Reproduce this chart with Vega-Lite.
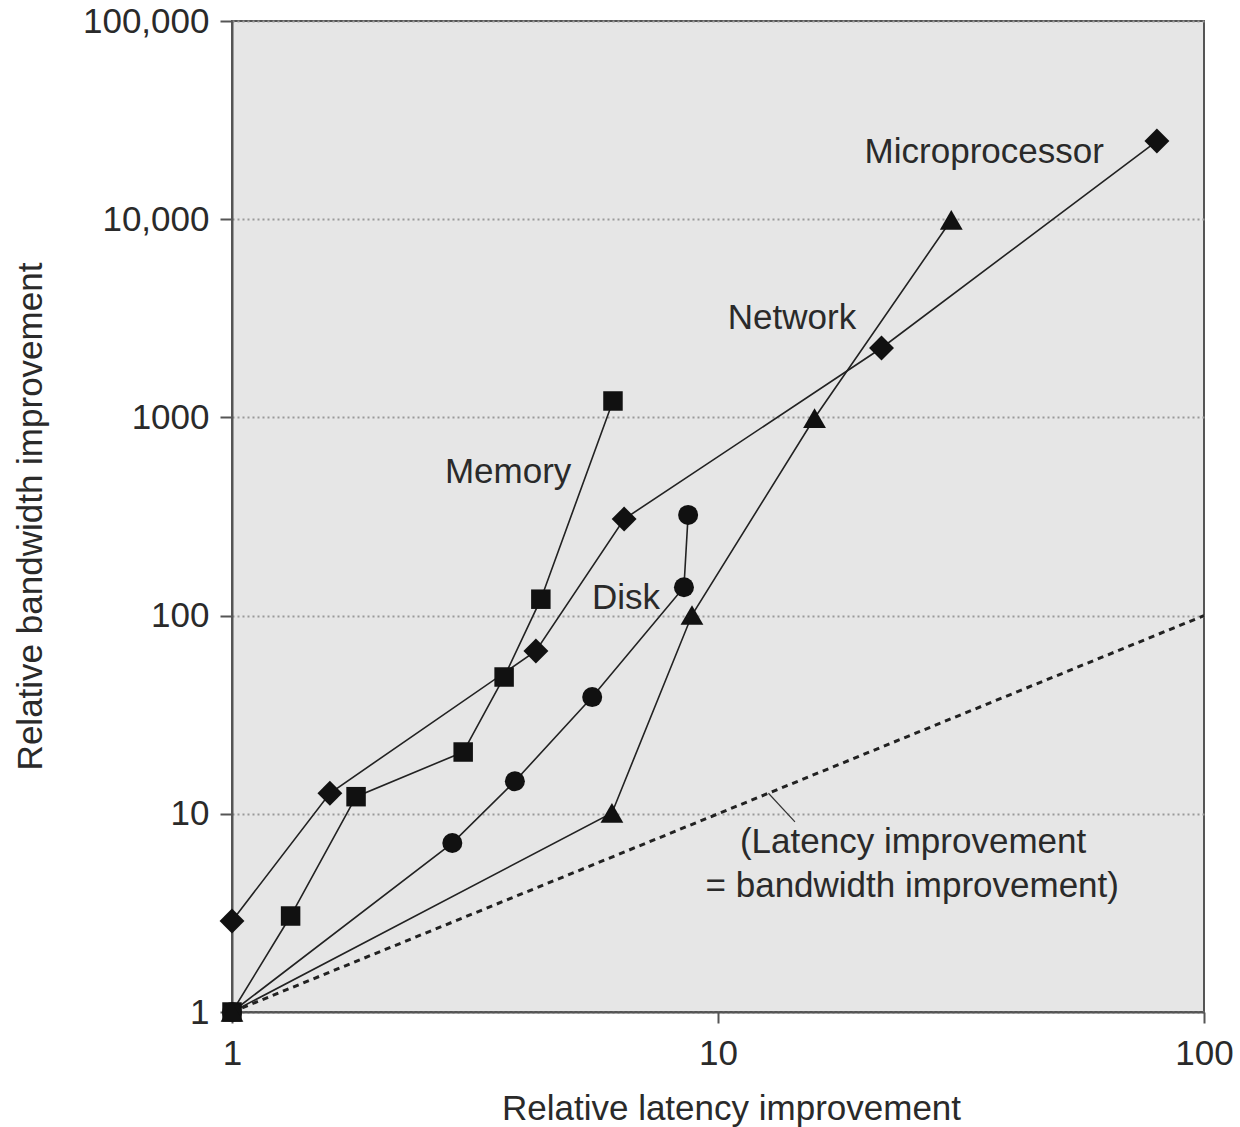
{
  "$schema": "https://vega.github.io/schema/vega-lite/v6.json",
  "width": 972,
  "height": 991,
  "autosize": {"type": "none"},
  "padding": {"left": 232, "top": 21, "right": 36, "bottom": 115},
  "background": "white",
  "config": {
    "view": {"fill": "#e6e6e6", "stroke": "#555555", "strokeWidth": 2},
    "font": "Liberation Sans",
    "axis": {
      "labelFont": "Liberation Sans",
      "labelFontSize": 35,
      "labelColor": "#2a2a2a",
      "labelFlush": false,
      "titleFont": "Liberation Sans",
      "titleFontSize": 35,
      "titleFontWeight": "normal",
      "titleColor": "#2a2a2a",
      "domainColor": "#555555",
      "domainWidth": 2,
      "tickColor": "#555555",
      "tickWidth": 2
    }
  },
  "datasets": {
    "pts": [
      {"series": "Microprocessor", "i": 0, "x": 1, "y": 2.88},
      {"series": "Microprocessor", "i": 1, "x": 1.59, "y": 12.7},
      {"series": "Microprocessor", "i": 2, "x": 4.22, "y": 66.3},
      {"series": "Microprocessor", "i": 3, "x": 6.41, "y": 307},
      {"series": "Microprocessor", "i": 4, "x": 21.7, "y": 2240},
      {"series": "Microprocessor", "i": 5, "x": 80, "y": 24800},
      {"series": "Memory", "i": 0, "x": 1, "y": 1},
      {"series": "Memory", "i": 1, "x": 1.32, "y": 3.05},
      {"series": "Memory", "i": 2, "x": 1.8, "y": 12.2},
      {"series": "Memory", "i": 3, "x": 2.99, "y": 20.5},
      {"series": "Memory", "i": 4, "x": 3.63, "y": 49},
      {"series": "Memory", "i": 5, "x": 4.32, "y": 121},
      {"series": "Memory", "i": 6, "x": 6.08, "y": 1210},
      {"series": "Disk", "i": 0, "x": 1, "y": 1},
      {"series": "Disk", "i": 1, "x": 2.84, "y": 7.12},
      {"series": "Disk", "i": 2, "x": 3.82, "y": 14.6},
      {"series": "Disk", "i": 3, "x": 5.51, "y": 38.8},
      {"series": "Disk", "i": 4, "x": 8.51, "y": 139},
      {"series": "Disk", "i": 5, "x": 8.68, "y": 322},
      {"series": "Network", "i": 0, "x": 1, "y": 1},
      {"series": "Network", "i": 1, "x": 6.05, "y": 10.1},
      {"series": "Network", "i": 2, "x": 8.84, "y": 100.7},
      {"series": "Network", "i": 3, "x": 15.8, "y": 993},
      {"series": "Network", "i": 4, "x": 30.2, "y": 9910}
    ],
    "labels": [
      {"text": "Microprocessor", "x": 35.3, "y": 21840},
      {"text": "Network", "x": 14.2, "y": 3175},
      {"text": "Memory", "x": 3.7, "y": 530},
      {"text": "Disk", "x": 6.47, "y": 122.7},
      {"text": "(Latency improvement", "x": 25.2, "y": 7.21},
      {"text": "= bandwidth improvement)", "x": 25.1, "y": 4.32}
    ],
    "equal": [
      {"x": 1, "y": 1},
      {"x": 100, "y": 100}
    ],
    "leader": [
      {"x": 12.7, "y": 12.7, "x2": 14.4, "y2": 9.1}
    ]
  },
  "layer": [
    {
      "data": {"name": "equal"},
      "mark": {"type": "line", "color": "#222222", "strokeWidth": 3, "strokeDash": [6, 5], "clip": false},
      "encoding": {
        "x": {
          "field": "x",
          "type": "quantitative",
          "scale": {"type": "log", "domain": [1, 100], "nice": false},
          "axis": {
            "values": [1, 10, 100],
            "format": "d",
            "grid": false,
            "tickSize": 11,
            "labelPadding": 13,
            "title": "Relative latency improvement",
            "titleX": 499,
            "titleY": 96,
            "titleBaseline": "middle",
            "titleAlign": "center"
          }
        },
        "y": {
          "field": "y",
          "type": "quantitative",
          "scale": {"type": "log", "domain": [1, 100000], "nice": false},
          "axis": {
            "values": [1, 10, 100, 1000, 10000, 100000],
            "labelExpr": "datum.value == 1000 ? '1000' : format(datum.value, ',')",
            "grid": true,
            "gridColor": "#999999",
            "gridWidth": 2,
            "gridDash": [2, 3],
            "tickSize": 12,
            "labelPadding": 11,
            "title": "Relative bandwidth improvement",
            "titleX": -202,
            "titleY": 495,
            "titleAngle": -90,
            "titleBaseline": "middle",
            "titleAlign": "center"
          }
        }
      }
    },
    {
      "data": {"name": "leader"},
      "mark": {"type": "rule", "color": "#333333", "strokeWidth": 1.2},
      "encoding": {
        "x": {"field": "x", "type": "quantitative"},
        "y": {"field": "y", "type": "quantitative"},
        "x2": {"field": "x2"},
        "y2": {"field": "y2"}
      }
    },
    {
      "data": {"name": "pts"},
      "mark": {"type": "line", "color": "#222222", "strokeWidth": 1.6, "clip": false},
      "encoding": {
        "x": {"field": "x", "type": "quantitative"},
        "y": {"field": "y", "type": "quantitative"},
        "detail": {"field": "series"},
        "order": {"field": "i", "type": "quantitative"}
      }
    },
    {
      "data": {"name": "pts"},
      "mark": {"type": "point", "filled": true, "opacity": 1, "color": "#111111", "clip": false},
      "encoding": {
        "x": {"field": "x", "type": "quantitative"},
        "y": {"field": "y", "type": "quantitative"},
        "shape": {
          "field": "series",
          "type": "nominal",
          "scale": {
            "domain": ["Microprocessor", "Memory", "Disk", "Network"],
            "range": ["diamond", "square", "circle", "triangle-up"]
          },
          "legend": null
        },
        "size": {
          "field": "series",
          "type": "nominal",
          "scale": {
            "type": "ordinal",
            "domain": ["Microprocessor", "Memory", "Disk", "Network"],
            "range": [620, 380, 400, 520]
          },
          "legend": null
        }
      }
    },
    {
      "data": {"name": "labels"},
      "mark": {"type": "text", "font": "Liberation Sans", "fontSize": 35, "color": "#2a2a2a", "align": "center", "baseline": "middle"},
      "encoding": {
        "x": {"field": "x", "type": "quantitative"},
        "y": {"field": "y", "type": "quantitative"},
        "text": {"field": "text"}
      }
    }
  ]
}
